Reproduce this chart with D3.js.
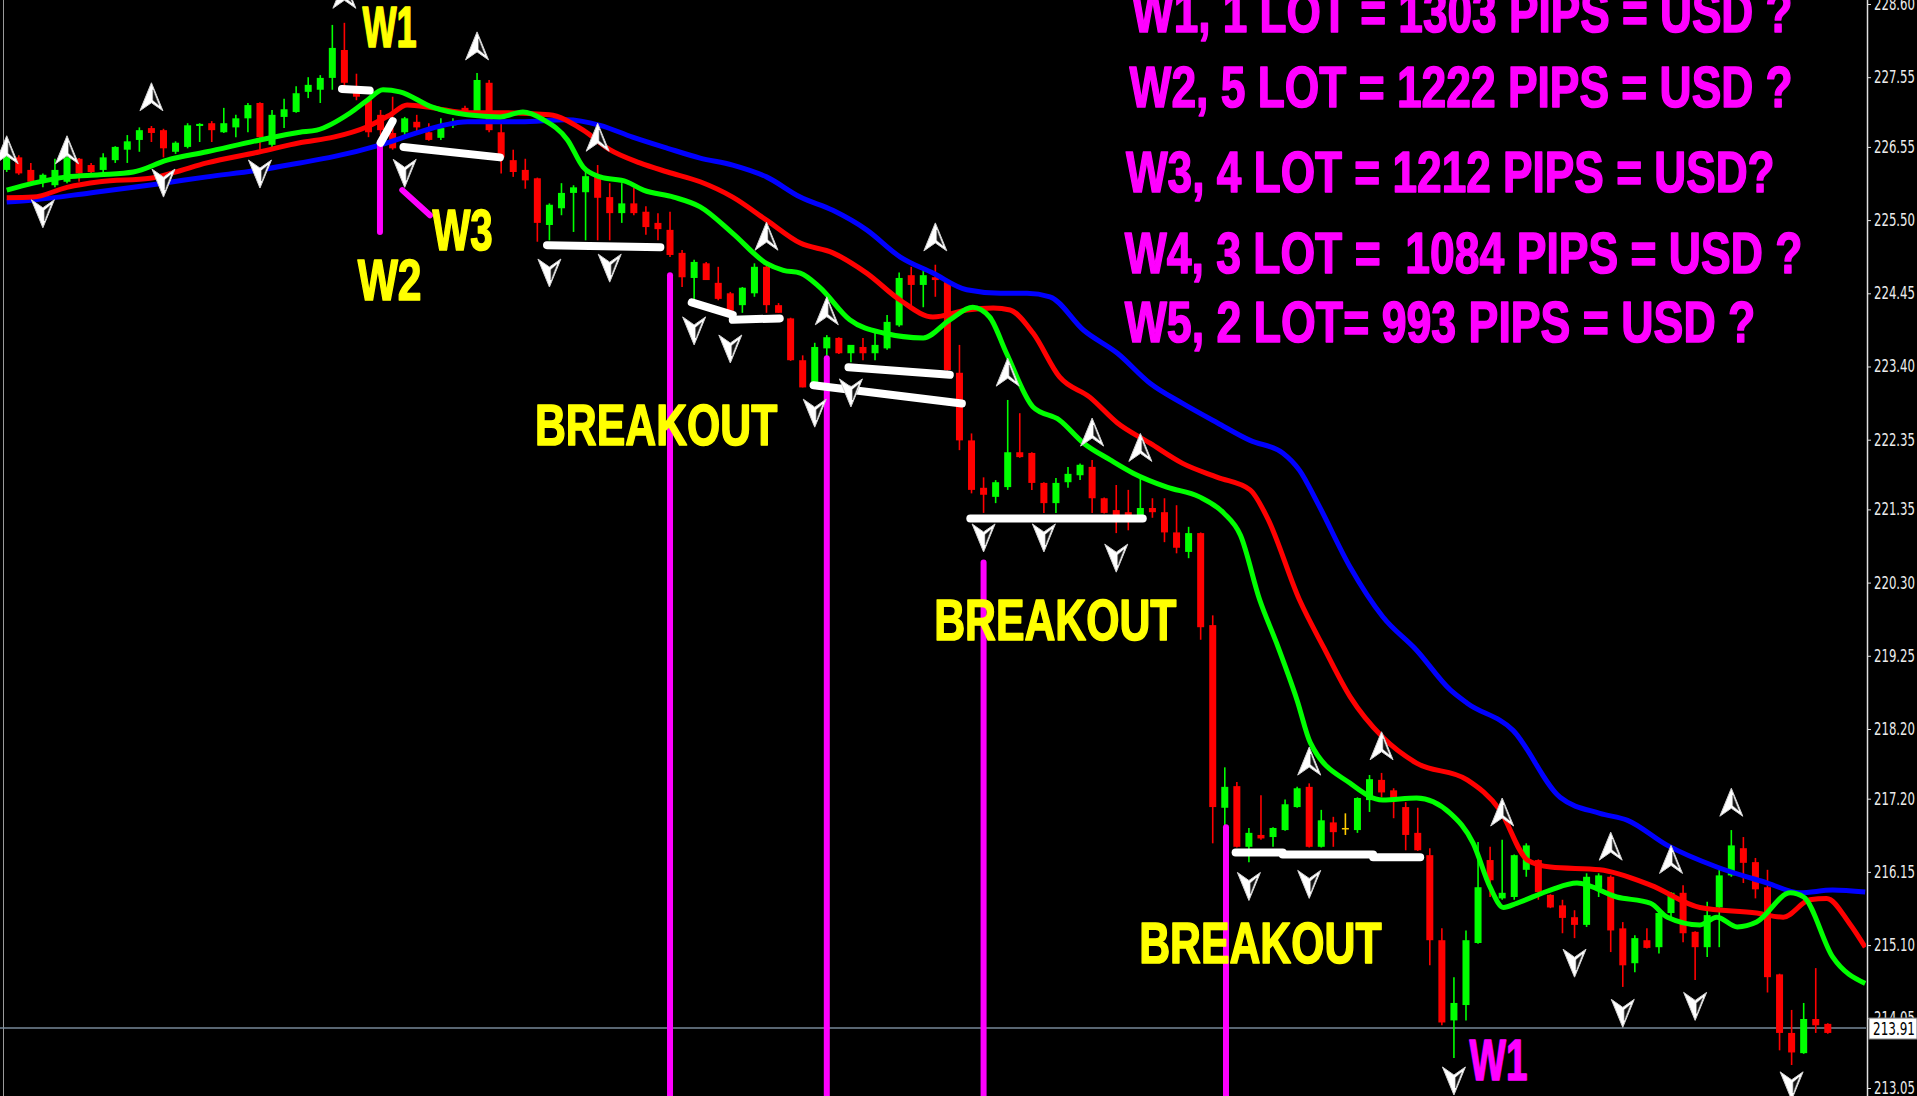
<!DOCTYPE html>
<html>
<head>
<meta charset="utf-8">
<script src="https://cdn.jsdelivr.net/npm/d3@7"></script>
<style>
  html, body { margin: 0; padding: 0; background: #000; overflow: hidden; }
</style>
</head>
<body>
<svg id="chart"></svg>
<script>
// bars: [open, high, low, close], one per candle, left to right
const bars = [
  [226.22,226.48,226.19,226.46],[226.40,226.43,226.15,226.17],[226.22,226.32,226.03,226.05],[226.07,226.17,225.97,226.15],
  [226.00,226.38,225.97,226.22],[226.05,226.43,226.03,226.40],[226.38,226.39,226.05,226.17],[226.29,226.32,226.15,226.19],
  [226.22,226.46,226.17,226.40],[226.36,226.56,226.32,226.55],[226.51,226.72,226.32,226.63],[226.65,226.83,226.48,226.79],
  [226.82,226.85,226.62,226.75],[226.79,226.81,226.40,226.53],[226.48,226.63,226.45,226.61],[226.55,226.89,226.53,226.86],
  [226.85,226.89,226.62,226.88],[226.89,226.92,226.62,226.79],[226.76,227.11,226.75,226.89],[226.83,227.01,226.69,226.96],
  [226.96,227.18,226.76,227.15],[227.18,227.19,226.51,226.69],[226.58,227.08,226.55,227.01],[226.98,227.24,226.82,227.09],
  [227.05,227.42,227.04,227.32],[227.34,227.55,227.25,227.44],[227.37,227.58,227.18,227.54],[227.54,228.30,227.37,227.97],
  [227.94,228.33,227.41,227.47],[227.41,227.60,227.22,227.27],[227.22,227.25,226.69,226.76],[227.01,227.08,226.72,226.79],
  [226.75,227.27,226.51,226.53],[226.76,226.98,226.69,226.96],[226.91,227.01,226.76,226.83],[226.76,226.89,226.64,226.65],
  [226.68,226.96,226.65,226.82],[226.86,226.96,226.82,226.91],[227.11,227.14,227.01,227.05],[227.05,227.61,227.04,227.51],
  [227.47,227.51,226.76,226.79],[226.76,226.91,226.17,226.40],[226.36,226.51,226.12,226.19],[226.22,226.38,225.95,226.07],
  [226.10,226.11,225.19,225.46],[225.43,225.74,225.21,225.72],[225.67,226.03,225.57,225.89],[225.89,226.00,225.33,225.97],
  [225.90,226.19,225.21,226.13],[226.13,226.29,225.21,225.82],[225.83,226.03,225.21,225.60],[225.60,226.03,225.46,225.74],
  [225.74,225.96,225.57,225.60],[225.62,225.70,225.29,225.40],[225.46,225.60,225.21,225.37],[225.36,225.62,224.97,225.00],
  [225.03,225.07,224.54,224.68],[224.67,224.93,224.35,224.90],[224.88,224.90,224.64,224.64],[224.60,224.83,224.35,224.37],
  [224.45,224.47,224.14,224.20],[224.28,224.54,224.17,224.53],[224.45,224.88,224.40,224.83],[224.83,224.86,224.17,224.28],
  [224.28,224.31,224.17,224.17],[224.09,224.10,223.48,223.49],[223.49,223.56,223.10,223.10],[223.16,223.74,223.16,223.68],
  [223.66,223.85,223.52,223.82],[223.81,223.82,223.58,223.59],[223.59,223.71,223.46,223.71],[223.68,223.81,223.49,223.59],
  [223.59,223.88,223.49,223.71],[223.66,224.14,223.64,224.04],[223.99,224.75,223.97,224.67],[224.71,224.83,224.25,224.57],
  [224.57,224.78,224.25,224.71],[224.68,224.86,224.40,224.64],[224.61,224.62,223.34,223.35],[223.31,223.71,222.20,222.34],
  [222.34,222.44,221.58,221.63],[221.66,221.81,221.30,221.56],[221.53,221.77,221.44,221.74],[221.67,222.92,221.63,222.17],
  [222.17,222.73,222.09,222.10],[222.16,222.17,221.63,221.73],[221.73,221.74,221.30,221.44],[221.44,221.80,221.30,221.73],
  [221.74,221.96,221.66,221.86],[221.84,222.01,221.77,221.99],[221.96,222.06,221.30,221.51],[221.51,221.52,221.29,221.30],
  [221.34,221.70,221.01,221.27],[221.31,221.63,221.05,221.23],[221.24,221.80,221.23,221.37],[221.37,221.51,221.23,221.31],
  [221.31,221.51,220.88,221.02],[221.02,221.41,220.72,220.80],[220.74,221.10,220.65,221.01],[221.01,221.02,219.48,219.66],
  [219.69,219.83,216.56,217.08],[217.07,217.65,216.79,217.37],[217.38,217.44,216.50,216.51],[216.51,216.78,216.29,216.71],
  [216.68,217.25,216.61,216.63],[216.65,216.79,216.51,216.78],[216.75,217.19,216.74,217.12],[217.08,217.37,217.07,217.35],
  [217.37,217.42,216.50,216.51],[216.51,217.04,216.50,216.89],[216.86,216.94,216.51,216.72],[216.78,216.99,216.68,216.78],
  [216.75,217.22,216.71,217.21],[217.18,217.54,217.01,217.48],[217.47,217.57,217.22,217.29],[217.32,217.35,216.92,217.18],
  [217.08,217.15,216.46,216.68],[216.71,217.07,216.45,216.46],[216.39,216.49,214.81,215.17],[215.17,215.34,213.95,213.99],
  [214.02,214.64,213.48,214.27],[214.24,215.31,214.02,215.17],[215.13,216.58,215.12,215.93],[216.32,216.51,215.79,216.03],
  [215.77,216.61,215.75,215.85],[215.79,216.40,215.75,216.39],[216.18,216.56,216.08,216.53],[216.32,216.33,215.75,215.86],
  [215.82,215.83,215.63,215.64],[215.67,215.75,215.27,215.49],[215.50,215.60,215.20,215.39],[215.39,216.13,215.36,216.08],
  [215.92,216.13,215.79,216.10],[216.08,216.10,215.00,215.31],[215.34,215.43,214.50,214.81],[214.84,215.24,214.71,215.20],
  [215.17,215.34,215.05,215.06],[215.07,215.57,214.98,215.56],[215.56,215.86,215.50,215.85],[215.85,215.96,215.14,215.27],
  [215.29,215.30,214.60,215.07],[215.07,215.72,214.93,215.53],[215.64,216.20,215.07,216.10],[216.10,216.75,216.08,216.53],
  [216.49,216.65,215.99,216.28],[216.29,216.35,215.77,215.90],[215.93,216.18,214.42,214.64],[214.68,214.69,213.59,213.84],
  [213.84,214.17,213.38,213.56],[213.55,214.27,213.54,214.04],[214.04,214.77,213.84,213.95],[213.97,213.98,213.83,213.84]
];

// moving averages: [bar index, price]
const maBlue = [
  [0,225.76],[2.2,225.79],[6.9,225.89],[10.5,225.97],[13,226.03],[16.6,226.12],[21,226.22],[24.3,226.32],[27.1,226.41],
  [31,226.58],[34,226.75],[36.2,226.86],[38.2,226.91],[42.6,226.91],[46.4,226.94],[49.2,226.86],[51.9,226.69],[54.8,226.53],
  [57.5,226.39],[60.2,226.29],[63,226.12],[65.8,225.83],[68.5,225.64],[71.3,225.36],[74.1,224.97],[76.8,224.74],[79.6,224.50],
  [82.4,224.45],[84.6,224.45],[86.5,224.40],[89.3,223.92],[92.1,223.59],[94.8,223.16],[97.5,222.87],[100.4,222.59],
  [103.1,222.34],[105.8,222.16],[107.2,221.91],[108.7,221.44],[111.4,220.52],[114.1,219.81],[116.9,219.33],[119.7,218.76],
  [121.1,218.57],[124.9,218.18],[128.8,217.22],[132.1,216.99],[134.4,216.89],[137.7,216.53],[141.8,216.22],[146,215.99],
  [148.7,215.85],[151.4,215.89],[154.1,215.86]
];
const maRed = [
  [0,225.82],[2.2,225.83],[5,225.97],[7.7,226.05],[11.9,226.10],[13.8,226.18],[16.6,226.32],[21,226.48],[24.3,226.61],
  [27.1,226.69],[29.9,226.84],[31.8,227.01],[33.2,227.15],[35.3,227.11],[38.2,227.04],[40.9,227.04],[45,227.01],[47.8,226.79],
  [50,226.51],[52.5,226.32],[54.8,226.19],[57.5,226.05],[60.2,225.83],[63,225.50],[65.8,225.17],[68.5,225.03],[71.3,224.74],
  [74.1,224.35],[76.8,224.11],[79.6,224.21],[81.8,224.24],[83.2,224.21],[85.1,223.88],[87.3,223.25],[89.8,222.96],
  [92.1,222.59],[94.8,222.30],[97.5,222.01],[100.4,221.81],[103.1,221.63],[104.5,221.24],[107.2,220.05],[109.2,219.37],
  [111.4,218.66],[114.1,218.08],[116.9,217.71],[121.1,217.47],[123.8,217.04],[126.1,216.32],[128,216.22],[132.1,216.18],
  [136.3,215.96],[140.4,215.64],[145.1,215.56],[147.3,215.50],[149.5,215.75],[150.9,215.77],[152.8,215.41],[154.1,215.07]
];
const maGreen = [
  [0,225.93],[2.2,226.03],[5,226.12],[7.7,226.15],[10.5,226.19],[13.3,226.36],[16.6,226.48],[21,226.65],[24.3,226.76],
  [25.7,226.79],[28.5,227.04],[29.9,227.22],[31.2,227.37],[32.6,227.34],[35.3,227.12],[38.2,227.01],[40.9,226.98],
  [42.8,227.05],[44.5,226.94],[46.5,226.65],[47.8,226.26],[49.2,226.12],[51.4,226.05],[52.8,225.93],[55.3,225.83],
  [57.5,225.69],[60.2,225.31],[63,224.88],[64.4,224.78],[65.8,224.74],[67.4,224.54],[69.9,224.07],[72.7,223.88],[76,223.81],
  [78.2,224.07],[80.1,224.25],[81.5,224.11],[82.9,223.59],[85.1,222.82],[87.3,222.63],[89.3,222.30],[91.5,222.06],
  [93.4,221.87],[96.2,221.67],[98.9,221.53],[100.9,221.30],[102.3,220.98],[103.9,220.05],[105.3,219.43],[107,218.61],
  [108.1,218.00],[111.4,217.42],[114.1,217.18],[116.9,217.21],[119.7,216.99],[121.6,216.56],[123,215.93],[124.1,215.64],
  [125.2,215.70],[128,215.89],[130.2,215.99],[133.5,215.79],[136.3,215.70],[137.7,215.50],[140.4,215.39],[141.8,215.50],
  [143.5,215.36],[145.1,215.43],[147.9,215.85],[149,215.79],[151.4,214.93],[154.1,214.55]
];

// fractal arrows: [bar index, tip price]
const upMarks = [
  [0,226.71],[5,226.71],[12,227.47],[28,228.94],[39,228.20],[49,226.89],[63,225.47],[68,224.40],[77,225.46],
  [83,223.52],[90,222.66],[94,222.44],[108,217.94],[114,218.16],[124,217.21],[133,216.72],[138,216.53],[143,217.35]
];
const downMarks = [
  [3,225.39],[13,225.83],[21,225.96],[33,225.97],[45,224.54],[50,224.61],[57,223.71],[60,223.45],[67,222.53],
  [70,222.82],[81,220.74],[86,220.74],[92,220.45],[103,215.74],[108,215.77],[120,212.95],[130,214.64],[134,213.92],
  [140,214.02],[148,212.88]
];

// white range lines: [start index, start price, end index, end price]
const rangeLines = [
  [27.8,227.38,30.1,227.36],[31.0,226.61,32.0,226.92],[32.9,226.55,40.9,226.40],[44.8,225.14,54.2,225.11],
  [56.8,224.32,60.2,224.14],[60.2,224.07,64.1,224.09],[69.8,223.39,78.2,223.28],[66.9,223.13,79.2,222.87],
  [79.9,221.22,94.2,221.22],[101.9,216.43,105.8,216.43],[105.8,216.40,113.3,216.40],[113.3,216.36,117.2,216.36]
];

// magenta markers: [start index, start price, end index, end price]
const magentaLines = [
  [30.95,226.61,30.95,225.33],[32.8,225.93,35.1,225.57],
  [55.0,224.71,55.0,212.88],[68.0,223.52,68.0,212.88],[81.0,220.59,81.0,212.88],[101.1,216.79,101.1,212.88]
];

const priceTicks = [228.60,227.55,226.55,225.50,224.45,223.40,222.35,221.35,220.30,219.25,218.20,217.20,216.15,215.10,214.05,213.05];
const lastPrice = 213.91;

// annotations: [text, start index, end index, baseline price, colour]
const notes = [
  ["W1", 29.5, 34.0, 227.98, "#ffff00"],
  ["W2", 29.1, 34.4, 224.35, "#ffff00"],
  ["W3", 35.3, 40.3, 225.07, "#ffff00"],
  ["BREAKOUT", 43.8, 63.9, 222.27, "#ffff00"],
  ["BREAKOUT", 76.9, 97.0, 219.47, "#ffff00"],
  ["BREAKOUT", 93.9, 114.0, 214.84, "#ffff00"],
  ["W1", 121.3, 126.1, 213.16, "#ff00ff"],
  ["W1, 1 LOT = 1303 PIPS = USD ?", 93.3, 148.1, 228.20, "#ff00ff"],
  ["W2, 5 LOT = 1222 PIPS = USD ?", 93.1, 148.1, 227.12, "#ff00ff"],
  ["W3, 4 LOT = 1212 PIPS = USD?", 92.8, 146.6, 225.90, "#ff00ff"],
  ["W4, 3 LOT =  1084 PIPS = USD ?", 92.7, 148.9, 224.74, "#ff00ff"],
  ["W5, 2 LOT= 993 PIPS = USD ?", 92.7, 145.0, 223.75, "#ff00ff"]
];

const w = 1917, h = 1096;
const axisX = 1867;

const svg = d3.select('#chart')
    .attr('width', w)
    .attr('height', h)
    .style('display', 'block')
    .style('background', '#000');

const x = d3.scaleLinear().domain([0, 151]).range([6.7, 1827.8]);
const y = d3.scaleLinear().domain([213.05, 228.60]).range([1088, 4]);

// squeeze a text horizontally to a given pixel width (keeps its real box)
function squeeze(sel, widthFn) {
  sel.each(function(d) {
    const t = d3.select(this);
    const natural = this.getComputedTextLength();
    const x0 = +t.attr('x') || 0;
    const y0 = +t.attr('y') || 0;
    const sx = widthFn(d) / natural;
    t.attr('x', 0).attr('y', 0)
     .attr('transform', 'translate(' + x0 + ',' + y0 + ') scale(' + sx + ',1)');
  });
}

svg.append('defs').append('clipPath').attr('id', 'plot')
    .append('rect').attr('x', 0).attr('y', 0).attr('width', axisX - 1).attr('height', h);

const plot = svg.append('g').attr('clip-path', 'url(#plot)');

// left frame line
plot.append('line')
    .attr('x1', 3.5).attr('x2', 3.5).attr('y1', 0).attr('y2', h)
    .attr('stroke', '#9a9a9a').attr('stroke-width', 1);

// last price line
plot.append('line')
    .attr('x1', 0).attr('x2', axisX)
    .attr('y1', y(lastPrice)).attr('y2', y(lastPrice))
    .attr('stroke', '#778899').attr('stroke-width', 1.5);

function barColor(d) {
  if (d[3] > d[0]) return '#00ff00';
  if (d[3] < d[0]) return '#ff0000';
  return '#ffcc00';
}

const candles = plot.append('g').selectAll('g')
    .data(bars)
    .enter()
    .append('g');

candles.append('line')
    .attr('x1', (d, i) => x(i)).attr('x2', (d, i) => x(i))
    .attr('y1', d => y(d[1])).attr('y2', d => y(d[2]))
    .attr('stroke', barColor)
    .attr('stroke-width', 1.6);

candles.append('rect')
    .attr('x', (d, i) => x(i) - 3.5)
    .attr('width', 7)
    .attr('y', d => y(Math.max(d[0], d[3])))
    .attr('height', d => Math.max(1.5, Math.abs(y(d[0]) - y(d[3]))))
    .attr('fill', barColor);

// moving averages
const line = d3.line()
    .x(d => x(d[0]))
    .y(d => y(d[1]))
    .curve(d3.curveMonotoneX);

[[maBlue, '#0000ff'], [maRed, '#ff0000'], [maGreen, '#00ff00']].forEach(function(s) {
  plot.append('path')
      .datum(s[0])
      .attr('d', line)
      .attr('fill', 'none')
      .attr('stroke', s[1])
      .attr('stroke-width', 5)
      .attr('stroke-linejoin', 'round');
});

// magenta lines
plot.selectAll('.mag')
    .data(magentaLines)
    .enter()
    .append('line')
    .attr('class', 'mag')
    .attr('x1', d => x(d[0])).attr('y1', d => y(d[1]))
    .attr('x2', d => x(d[2])).attr('y2', d => y(d[3]))
    .attr('stroke', '#ff00ff')
    .attr('stroke-width', 6)
    .attr('stroke-linecap', 'round');

// white range lines
plot.selectAll('.rng')
    .data(rangeLines)
    .enter()
    .append('line')
    .attr('class', 'rng')
    .attr('x1', d => x(d[0])).attr('y1', d => y(d[1]))
    .attr('x2', d => x(d[2])).attr('y2', d => y(d[3]))
    .attr('stroke', '#ffffff')
    .attr('stroke-width', 8)
    .attr('stroke-linecap', 'round');

// fractal arrows
const arrowOuter = 'M0,0 L11.5,28 L0,20 L-11.5,28 Z';
const arrowInner = 'M1.5,7 L7.5,22.5 L1.5,17.5 Z';

function drawMarks(data, flip) {
  const g = plot.append('g').selectAll('g')
      .data(data)
      .enter()
      .append('g')
      .attr('transform', d => 'translate(' + x(d[0]) + ',' + y(d[1]) + ')' + (flip ? ' scale(1,-1)' : ''));
  g.append('path')
      .attr('d', arrowOuter)
      .attr('fill', '#ffffff')
      .attr('stroke', '#d0d0d0')
      .attr('stroke-width', 1);
  g.append('path')
      .attr('d', arrowInner)
      .attr('fill', '#111')
      .attr('stroke', '#555')
      .attr('stroke-width', 0.6);
}
drawMarks(upMarks, false);
drawMarks(downMarks, true);

// texts
const noteText = svg.selectAll('.note')
    .data(notes)
    .enter()
    .append('text')
    .attr('class', 'note')
    .attr('x', d => x(d[1]))
    .attr('y', d => y(d[3]))
    .attr('font-family', 'Liberation Sans, Arial, sans-serif')
    .attr('font-weight', 'bold')
    .attr('font-size', 58)
    .style('white-space', 'pre')
    .attr('fill', d => d[4])
    .attr('stroke', d => d[4])
    .attr('stroke-width', 1.6)
    .attr('stroke-linejoin', 'round')
    .text(d => d[0]);
squeeze(noteText, d => x(d[2]) - x(d[1]));

// price axis
const axis = svg.append('g')
    .attr('transform', 'translate(' + axisX + ',0)')
    .call(d3.axisRight(y)
        .tickValues(priceTicks)
        .tickFormat(d3.format('.2f'))
        .tickSize(4)
        .tickPadding(3));
axis.select('.domain').remove();
axis.selectAll('.tick line').attr('stroke', '#e0e0e0');
const tickText = axis.selectAll('.tick text')
    .attr('fill', '#ececec')
    .attr('font-family', 'DejaVu Sans, sans-serif')
    .attr('font-size', 17);
squeeze(tickText, () => 41);
tickText.attr('transform', function() {
  return d3.select(this).attr('transform').replace('translate(0,0)', 'translate(7,0)');
});

svg.append('line')
    .attr('x1', axisX + 0.5).attr('x2', axisX + 0.5)
    .attr('y1', 0).attr('y2', h)
    .attr('stroke', '#e0e0e0').attr('stroke-width', 1.5);

// last price box
svg.append('rect')
    .attr('x', axisX + 2).attr('y', y(lastPrice) - 10)
    .attr('width', w - axisX - 2).attr('height', 21)
    .attr('fill', '#ffffff')
    .attr('stroke', '#777')
    .attr('stroke-width', 1);
const lastText = svg.append('text')
    .datum(lastPrice)
    .attr('x', axisX + 6).attr('y', y(lastPrice) + 6.5)
    .attr('font-family', 'DejaVu Sans, sans-serif')
    .attr('font-size', 17)
    .attr('fill', '#000')
    .text(d3.format('.2f')(lastPrice));
squeeze(lastText, () => 42);
</script>
</body>
</html>
